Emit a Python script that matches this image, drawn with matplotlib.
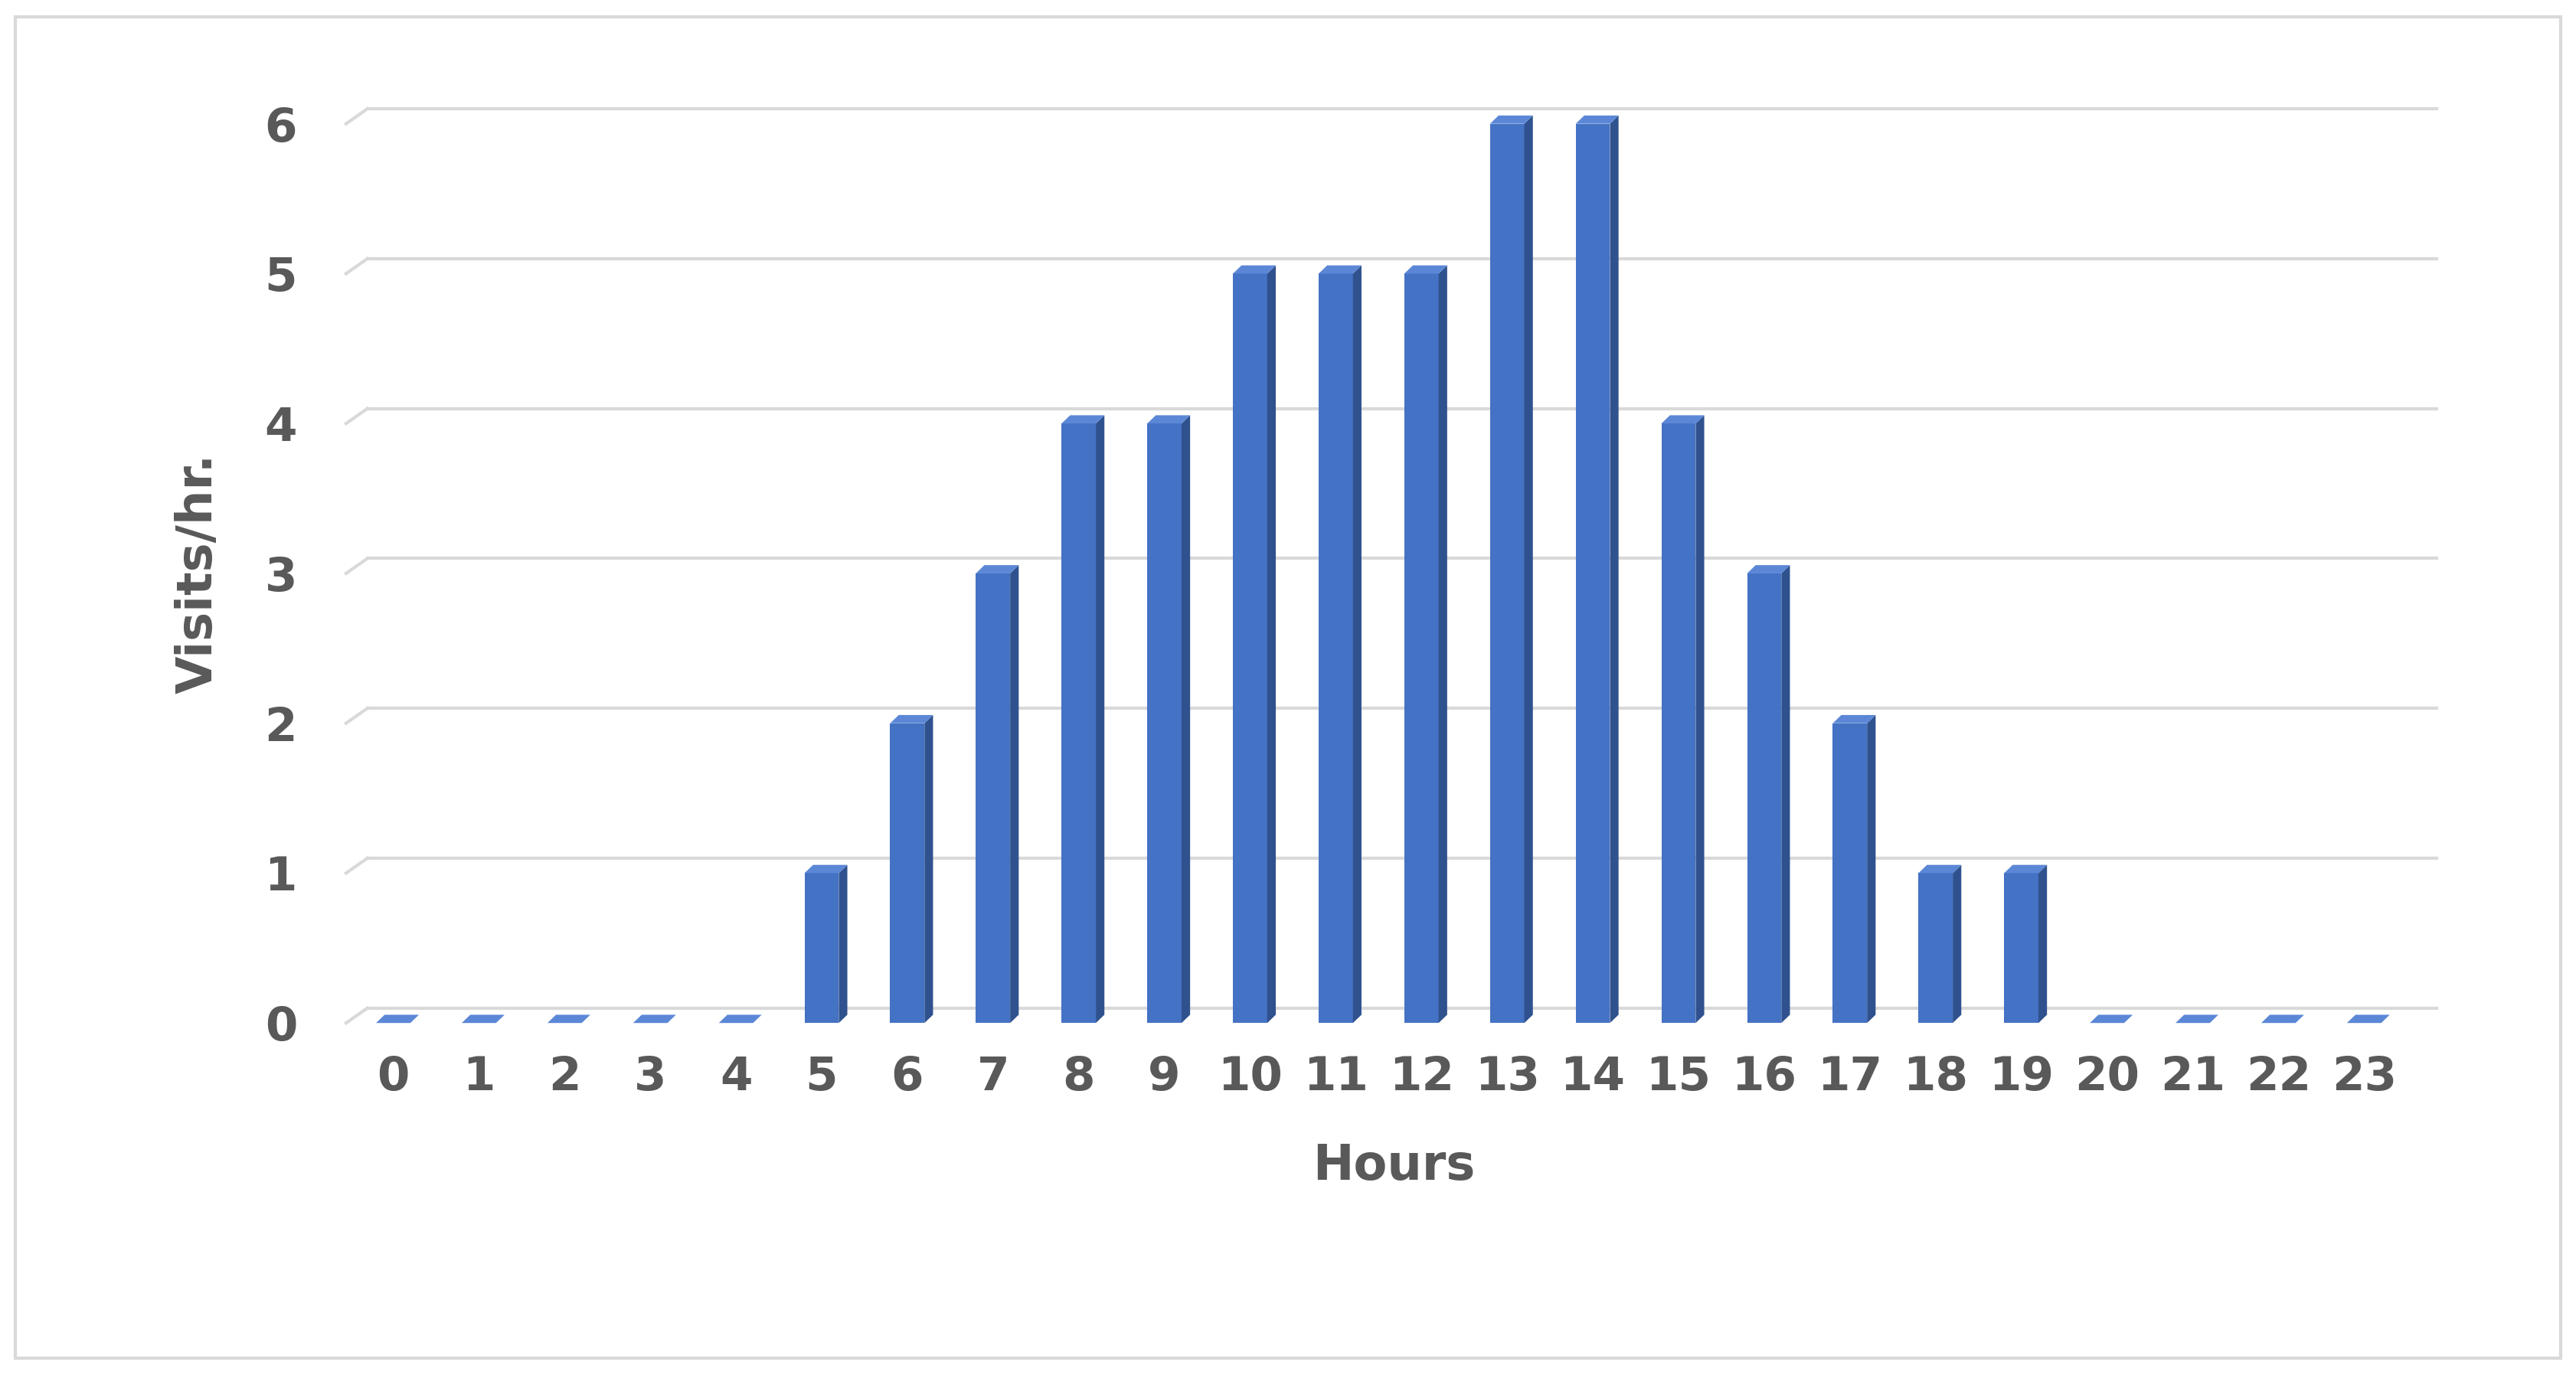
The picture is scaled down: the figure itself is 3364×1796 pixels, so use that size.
import matplotlib
matplotlib.use("Agg")
import matplotlib.pyplot as plt
from matplotlib.patches import Polygon, Rectangle

hours = list(range(24))
visits = [0,0,0,0,0,1,2,3,4,4,5,5,5,6,6,4,3,2,1,1,0,0,0,0]
yticks = [0,1,2,3,4,5,6]

fig = plt.figure(figsize=(33.64,17.96), dpi=100)
fig.patches.append(Rectangle((0.006,0.012),0.988,0.976, transform=fig.transFigure,
                             fill=False, edgecolor='#D9D9D9', linewidth=3))
ax = fig.add_axes([0.136,0.256,0.81,0.654])
ax.set_xlim(-0.5,23.85)
ax.set_ylim(0,6)
gray = '#595959'
dx, dy = 0.1, 0.055
w = 0.4
# gridlines with 3D floor offset
for t in yticks:
    ax.plot([-0.55,-0.3],[t,t+0.1], color='#D9D9D9', lw=3, clip_on=False, zorder=0)
    ax.plot([-0.3,23.85],[t+0.1,t+0.1], color='#D9D9D9', lw=3, clip_on=False, zorder=0)
for x, v in zip(hours, visits):
    h = max(v, 0.0)
    x0 = x - w/2
    ax.add_patch(Rectangle((x0,0), w, h, facecolor='#4472C4', edgecolor='none', zorder=3))
    ax.add_patch(Polygon([(x0+w,0),(x0+w+dx,dy),(x0+w+dx,h+dy),(x0+w,h)],
                         closed=True, facecolor='#2F528F', edgecolor='none', zorder=3, clip_on=False))
    ax.add_patch(Polygon([(x0,h),(x0+dx,h+dy),(x0+w+dx,h+dy),(x0+w,h)],
                         closed=True, facecolor='#5B87D6', edgecolor='none', zorder=3, clip_on=False))
ax.set_xticks(hours)
ax.set_xticklabels([str(h) for h in hours])
ax.set_yticks(yticks)
for s in ax.spines.values():
    s.set_visible(False)
ax.tick_params(length=0, labelsize=44, labelcolor=gray, pad=30)
ax.tick_params(axis='y', pad=50)
for l in ax.get_xticklabels()+ax.get_yticklabels():
    l.set_fontweight('bold')
ax.set_xlabel('Hours', fontsize=46, fontweight='bold', color=gray, labelpad=40)
ax.set_ylabel('Visits/hr.', fontsize=46, fontweight='bold', color=gray, labelpad=40)
fig.savefig('out.png', dpi=100)
